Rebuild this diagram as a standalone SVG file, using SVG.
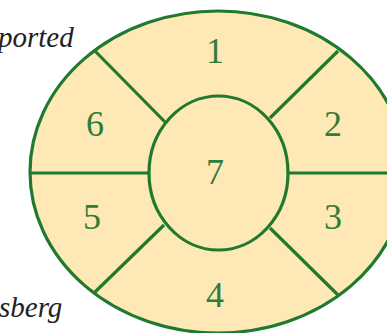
<svg xmlns="http://www.w3.org/2000/svg" width="387" height="333" viewBox="0 0 387 333">
<style>
.shape{fill:#fde8b6;stroke:#1f7a2f;stroke-width:3.2}
.line{stroke:#1f7a2f;stroke-width:3.2;fill:none}
.num{font-family:"Liberation Serif",serif;font-size:36px;fill:#2f7d3b;text-anchor:middle}
.lbl{font-family:"Liberation Serif",serif;font-style:italic;font-size:29px;fill:#222}
</style>
<rect width="387" height="333" fill="#ffffff"/>
<g id="outer"><ellipse class="shape" cx="218" cy="172" rx="188" ry="161"/></g>
<g id="connectors">
<line class="line" x1="30" y1="173" x2="149" y2="173"/>
<line class="line" x1="288" y1="173" x2="387" y2="173"/>
<line class="line" x1="95" y1="51" x2="165" y2="122"/>
<line class="line" x1="338" y1="51" x2="270" y2="118"/>
<line class="line" x1="164" y1="225" x2="95" y2="292"/>
<line class="line" x1="270" y1="228" x2="338" y2="295"/>
</g>
<g id="center"><ellipse class="shape" cx="218.5" cy="173" rx="69.5" ry="77"/><text class="num" x="215" y="184">7</text></g>
<g id="s1"><text class="num" x="215" y="63">1</text></g>
<g id="s2"><text class="num" x="333" y="136">2</text></g>
<g id="s3"><text class="num" x="333" y="229">3</text></g>
<g id="s4"><text class="num" x="215" y="307">4</text></g>
<g id="s5"><text class="num" x="92" y="229">5</text></g>
<g id="s6"><text class="num" x="95" y="136">6</text></g>
<g id="labels">
<text class="lbl" x="-2" y="47">ported</text>
<text class="lbl" x="-1" y="317">sberg</text>
</g>
</svg>
